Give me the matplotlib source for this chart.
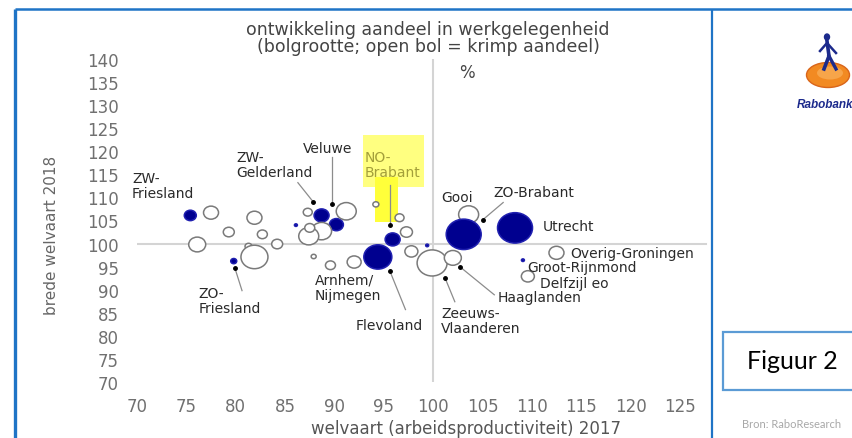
import matplotlib.pyplot as plt
from matplotlib.path import Path
from matplotlib.transforms import Affine2D
from matplotlib.patches import Rectangle, Ellipse

# bolletjes: arbeidsproductiviteit 2017 (x), brede welvaart 2018 (y)
# aandeel = verandering aandeel werkgelegenheid (bolgrootte, < 0 = krimp = open bol)
productiviteit = [75.4, 77.5, 81.9, 79.3, 76.1, 82.7, 81.3, 81.9, 84.2, 79.8,
                  87.9, 86.1, 87.3, 88.7, 90.2, 91.2, 88.7, 87.4, 87.5, 89.6,
                  92.0, 94.4, 95.9, 96.6, 97.3, 97.8, 94.2, 99.9, 102.0, 103.6,
                  103.1, 108.3, 109.1, 112.5, 109.6, 99.4]
welvaart = [106.1, 106.7, 105.6, 102.5, 99.8, 102.0, 99.4, 97.1, 99.9, 96.2,
            97.2, 104.0, 106.8, 106.1, 104.1, 107.0, 102.7, 101.6, 103.4, 95.3,
            96.0, 97.1, 100.9, 105.6, 102.5, 98.3, 108.5, 95.8, 96.9, 106.3,
            102.0, 103.4, 96.4, 98.0, 92.9, 99.6]
aandeel = [1.2, -1.5, -1.5, -1.1, -1.7, -1.0, -0.7, -2.7, -1.1, 0.6,
           -0.5, 0.3, -0.9, 1.5, 1.4, -2.0, -2.0, -2.0, -1.0, -1.0,
           -1.4, 2.8, 1.5, -0.9, -1.2, -1.3, -0.6, -3.0, -1.7, -2.0,
           3.5, 3.5, 0.3, -1.5, -1.3, 0.3]

regio_labels = ["ZW-\nFriesland", "ZW-\nGelderland", "Veluwe", "NO-\nBrabant",
                "Gooi", "ZO-Brabant", "Utrecht", "Overig-Groningen",
                "Groot-Rijnmond", "Delfzijl eo", "Haaglanden",
                "Zeeuws-\nVlaanderen", "Flevoland", "Arnhem/\nNijmegen",
                "ZO-\nFriesland"]
label_pos = [(69.5, 112.6), (80.1, 117.1), (86.8, 120.8), (93.1, 117.1),
             (100.8, 110.2), (106.1, 111.1), (111.1, 103.9), (113.9, 98.05),
             (109.5, 95.0), (110.8, 91.5), (106.5, 88.5), (100.8, 83.3),
             (92.1, 82.4), (88.0, 90.5), (76.2, 87.6)]

# verbindingslijntjes: punt bij de bol -> eind bij het label
lijn_van = [(87.83, 109.1), (89.76, 108.5), (95.63, 104.0), (79.93, 94.6),
            (95.63, 94.0), (102.7, 95.0), (101.2, 92.6), (105.06, 105.2)]
lijn_naar = [(86.3, 113.2), (89.76, 118.7), (95.63, 112.8), (80.64, 89.8),
             (97.2, 85.7), (106.2, 88.9), (102.2, 87.4), (107.1, 108.9)]

navy = "#00008f"
fig = plt.figure(figsize=(8.52, 4.39), dpi=100)

# pagina-laag in pixels: kaders, titel, logo
page = fig.add_axes([0, 0, 1, 1], zorder=0)
page.set_xlim(0, 852)
page.set_ylim(439, 0)
page.axis("off")

blue = "#1f74c6"
page.plot([15, 15], [10, 439], color=blue, lw=2.4, solid_capstyle="butt")
page.plot([15, 852], [10, 10], color=blue, lw=1.8, solid_capstyle="butt")
page.plot([712, 712], [10, 439], color=blue, lw=1.6, solid_capstyle="butt")

page.add_patch(Rectangle((363, 136), 61, 52, color="#ffff80", lw=0))
page.add_patch(Rectangle((375, 178), 23, 45, color="#ffff3a", lw=0))

page.text(428, 30, "ontwikkeling aandeel in werkgelegenheid", ha="center",
          va="center", fontsize=12.5, color="#444444")
page.text(428, 47, "(bolgrootte; open bol = krimp aandeel)", ha="center",
          va="center", fontsize=12.5, color="#444444")
page.text(459, 73, "%", ha="left", va="center", fontsize=12, color="#444444")
page.text(52, 235, "brede welvaart 2018", rotation=90, ha="center",
          va="center", fontsize=11, color="#666666")
page.text(466, 434, "welvaart (arbeidsproductiviteit) 2017", ha="center",
          va="baseline", fontsize=12, color="#555555")

# Rabobank-logo (vereenvoudigd)
page.add_patch(Ellipse((828, 76), 43, 25, facecolor="#f28a22",
                       edgecolor="#d9651a", lw=1))
page.add_patch(Ellipse((830, 74), 26, 13, facecolor="#f7a54a", lw=0))
page.add_patch(Ellipse((827, 38), 5, 6, color="#1c2a8c"))
page.plot([827, 829, 824], [42, 57, 70], color="#1c2a8c", lw=2.6)
page.plot([829, 836], [57, 70], color="#1c2a8c", lw=2.4)
page.plot([820, 827, 836], [52, 44, 54], color="#1c2a8c", lw=1.8)
page.text(797, 105, "Rabobank", fontsize=8.5, fontweight="bold",
          fontstyle="italic", color="#1c2a8c", family="Liberation Sans",
          va="center", ha="left")

page.add_patch(Rectangle((723, 333), 140, 58, facecolor="white",
                         edgecolor="#5b9bd5", lw=1.6))
page.text(747, 362, "Figuur 2", fontsize=18, family="Lato", color="black",
          va="center", ha="left")
page.text(742, 425, "Bron: RaboResearch", fontsize=8, family="Lato",
          color="#a8a8a8", va="center", ha="left")

# grafiek
ax = fig.add_axes([137 / 852, 1 - 383 / 439, 575 / 852, 323 / 439], zorder=2)
ax.patch.set_alpha(0)
ax.set_xlim(70, 70 + 575 / 9.87)
ax.set_ylim(70, 140)
for s in ax.spines.values():
    s.set_visible(False)
ax.set_xticks(range(70, 126, 5))
ax.set_yticks(range(70, 141, 5))
ax.tick_params(length=0, labelsize=12, labelcolor="#707070")
ax.tick_params(axis="x", pad=11)
ax.tick_params(axis="y", pad=13)

ax.plot([70, 127.7], [100, 100], color="#d4d4d4", lw=1.5, zorder=1)
ax.plot([100, 100], [70, 140], color="#d4d4d4", lw=1.5, zorder=1)

ellips = Path.unit_circle().transformed(Affine2D().scale(1.15, 1.0))
maten = [(10 * abs(a) * 0.72) ** 2 for a in aandeel]
vul = [navy if a > 0 else "white" for a in aandeel]
rand = ["#2020b0" if a > 0 else "#7a7a7a" for a in aandeel]
ax.scatter(productiviteit, welvaart, s=maten, c=vul, edgecolors=rand,
           linewidths=1.1, marker=ellips, zorder=3)

for (x0, y0), (x1, y1) in zip(lijn_van, lijn_naar):
    ax.plot([x0, x1], [y0, y1], color="#8c8c8c", lw=0.9, zorder=4)
    ax.plot(x0, y0, "o", color="black", ms=2.5, zorder=5)

for tekst, (lx, ly) in zip(regio_labels, label_pos):
    kleur = "#a39f3a" if tekst.startswith("NO-") else "#2a2a2a"
    ax.text(lx, ly, tekst, fontsize=10, color=kleur, ha="left",
            va="center", linespacing=1.1, zorder=6)

fig.savefig("out.png", dpi=100)
